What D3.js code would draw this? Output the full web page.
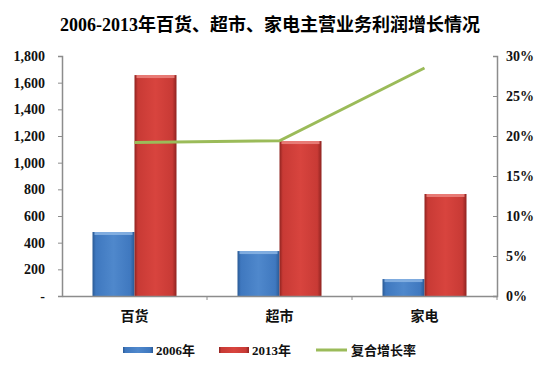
<!DOCTYPE html>
<html><head><meta charset="utf-8">
<script src="https://cdn.jsdelivr.net/npm/d3@7"></script>
<style>body{margin:0;background:#fff}svg{display:block}
.sf{font-family:"Liberation Serif","Times New Roman","Noto Sans CJK SC",serif;font-weight:bold}
.cj{font-family:"Noto Sans CJK SC",sans-serif;font-weight:bold}
</style>
</head><body>
<script>
const categories = ["百货","超市","家电"];
const profit2006 = [480, 337, 127];
const profit2013 = [1657, 1162, 765];
const cagr = [0.192, 0.194, 0.285];
const leftTicks = [0,200,400,600,800,1000,1200,1400,1600,1800];
const rightTicks = [0,0.05,0.10,0.15,0.20,0.25,0.30];
const seriesNames = ["2006年","2013年","复合增长率"];
const title = "2006-2013年百货、超市、家电主营业务利润增长情况";

const W=541,H=365;
const m={l:62,r:497,t:56,b:296};
const svg=d3.select("body").append("svg").attr("width",W).attr("height",H);
const defs=svg.append("defs");
function grad(id,dark,mid,light){
  const g=defs.append("linearGradient").attr("id",id).attr("x1","0").attr("x2","1").attr("y1","0").attr("y2","0");
  [[0,dark],[0.08,mid],[0.5,light],[0.9,mid],[1,dark]].forEach(s=>g.append("stop").attr("offset",s[0]).attr("stop-color",s[1]));
}
grad("gBlue","#2a5a95","#3f78bf","#4f88cc");
grad("gRed","#8f2320","#c83a35","#d8443e");

const x=d3.scaleBand().domain(categories).range([m.l,m.r]).paddingInner(0).paddingOuter(0);
const yL=d3.scaleLinear().domain([0,1800]).range([m.b,m.t]);
const yR=d3.scaleLinear().domain([0,0.30]).range([m.b,m.t]);
const bw=42;

svg.append("text").attr("class","sf").attr("x",270).attr("y",31).attr("text-anchor","middle")
  .style("font-size","18px").text(title);

function drawBars(vals,off,gid,top){
  const g=svg.append("g");
  categories.forEach((c,i)=>{
    const x0=x(c)+x.bandwidth()/2+off, y0=yL(vals[i]), h=yL(0)-yL(vals[i]);
    g.append("rect").attr("x",x0).attr("y",y0).attr("width",bw).attr("height",h).attr("fill",`url(#${gid})`);
    g.append("rect").attr("x",x0+2).attr("y",y0).attr("width",bw-4).attr("height",3).attr("fill",top).attr("opacity",0.8);
  });
}
drawBars(profit2006,-bw,"gBlue","#8fb8e6");
drawBars(profit2013,0,"gRed","#ee8a85");

const axisColor="#8c8c8c";
const gl=svg.append("g").attr("transform",`translate(${m.l},0)`)
  .call(d3.axisLeft(yL).tickValues(leftTicks).tickSize(4).tickFormat(d=>d===0?"-":d3.format(",")(d)));
const gr=svg.append("g").attr("transform",`translate(${m.r},0)`)
  .call(d3.axisRight(yR).tickValues(rightTicks).tickSize(-4).tickFormat(d3.format(".0%")));
gr.selectAll(".tick text").attr("x",9);
const gb=svg.append("g").attr("transform",`translate(0,${m.b})`)
  .call(d3.axisBottom(x).tickSize(0).tickFormat(""));
[gl,gr,gb].forEach(g=>{
  g.attr("font-family",null).attr("font-size",null);
  g.select(".domain").attr("stroke",axisColor).attr("stroke-width",1.5);
  g.selectAll(".tick line").attr("stroke",axisColor);
  g.selectAll(".tick text").attr("class","sf").style("font-size","14px").attr("fill","#111");
});
gl.selectAll(".tick text").attr("x",-17);
categories.slice(1).forEach(c=>{
  gb.append("line").attr("x1",x(c)).attr("x2",x(c)).attr("y1",0).attr("y2",4).attr("stroke",axisColor);
});
gb.append("line").attr("x1",m.r).attr("x2",m.r).attr("y1",0).attr("y2",4).attr("stroke",axisColor);
categories.forEach(c=>{
  svg.append("text").attr("class","cj").attr("x",x(c)+x.bandwidth()/2).attr("y",321).attr("text-anchor","middle")
    .style("font-size","14px").attr("fill","#111").text(c);
});

const line=d3.line().x((d,i)=>x(categories[i])+x.bandwidth()/2).y(d=>yR(d));
svg.append("path").datum(cagr).attr("d",line).attr("fill","none").attr("stroke","#9bbb59").attr("stroke-width",3);

const ly=350;
const lg=svg.append("g");
lg.append("rect").attr("x",123).attr("y",ly-3).attr("width",30).attr("height",6).attr("fill","url(#gBlue)");
lg.append("rect").attr("x",219).attr("y",ly-3).attr("width",30).attr("height",6).attr("fill","url(#gRed)");
lg.append("line").attr("x1",316).attr("x2",347).attr("y1",ly).attr("y2",ly).attr("stroke","#9bbb59").attr("stroke-width",3);
[[156,seriesNames[0]],[252,seriesNames[1]],[351,seriesNames[2]]].forEach(([lx,t])=>{
  lg.append("text").attr("class","sf").attr("x",lx).attr("y",ly+5).style("font-size","13px").attr("fill","#111").text(t);
});
</script>
</body></html>
